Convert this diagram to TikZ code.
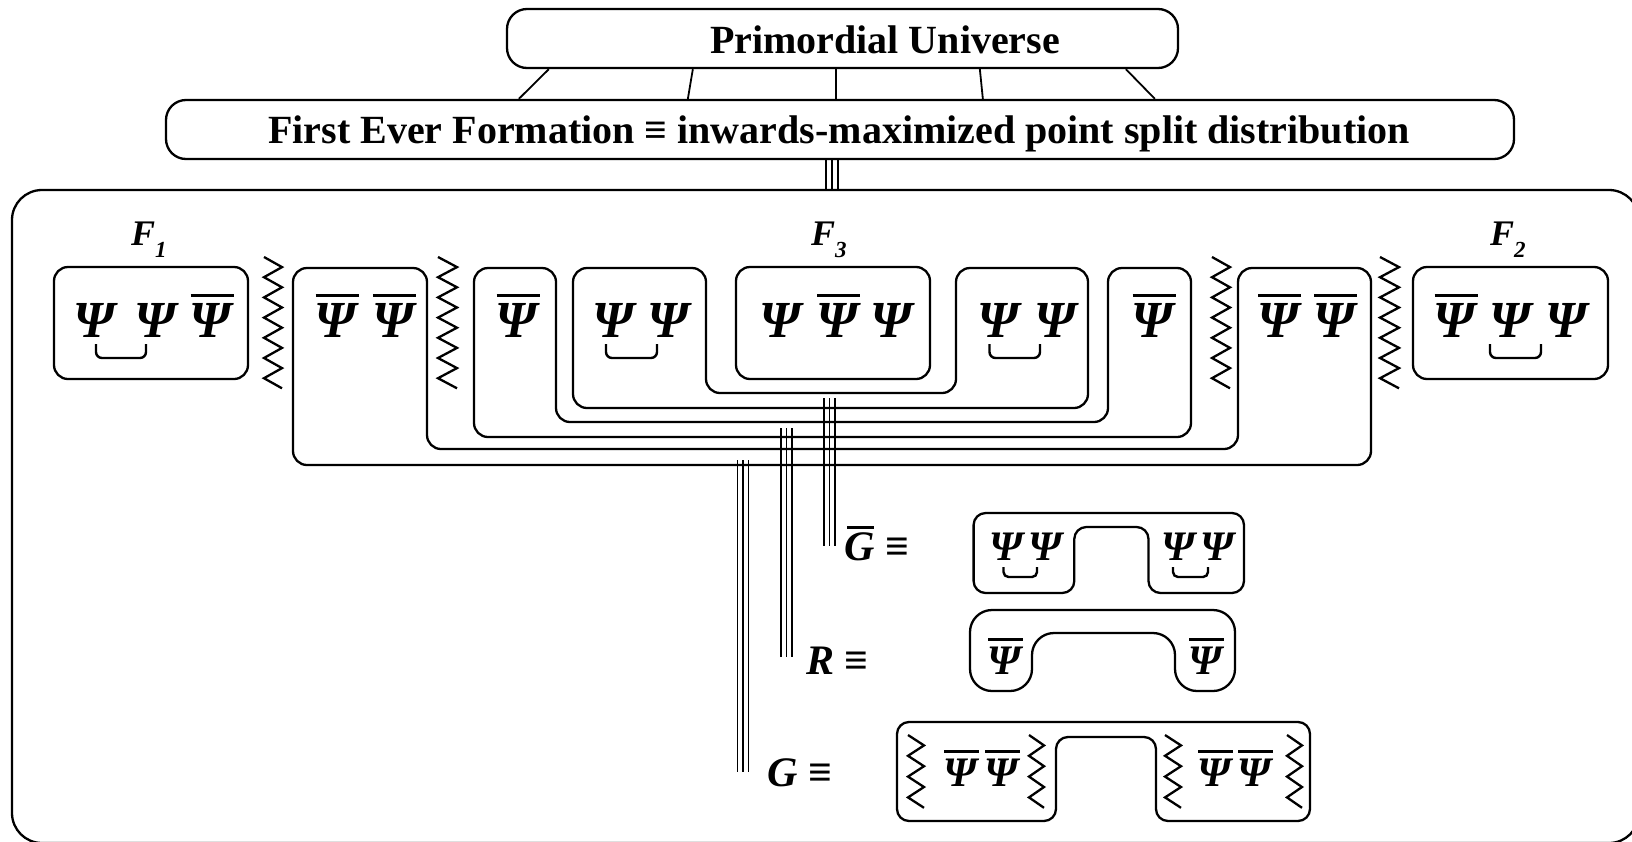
\documentclass[tikz,border=0pt]{standalone}
\usepackage{fontspec}
\setmainfont{Liberation Serif}
\usetikzlibrary{calc}
\newcommand\PsiN[4]{\node[#1] (#2) at (#3,#4) {Ψ};}
\newcommand\PsiB[4]{\node[#1] (#2) at (#3,#4) {Ψ};\draw[bar] (#2.base) ++(-20,-42) -- ++(43,0);}
\newcommand\PsiBs[4]{\node[#1] (#2) at (#3,#4) {Ψ};\draw[bar] (#2.base) ++(-16,-35) -- ++(35,0);}
\newcommand\zig[5]{\draw[zz] (#1,#2) \foreach \i in {1,...,#4}{ -- ({#1+#3*mod(\i,2)},{#2+\i*#5}) };}
\newcommand\brk[4]{\draw[brkt] (#1,#3) -- (#1,#4) -- (#2,#4) -- (#2,#3);}
\newcommand\tri[4]{\draw[tri] (#1,#2) -- (#1,#3); \draw[tri] ({#1+#4},#2) -- ({#1+#4},#3); \draw[tri] ({#1+2*#4},#2) -- ({#1+2*#4},#3);}
\begin{document}
\begin{tikzpicture}[x=1pt,y=-1pt,
  bx/.style={draw, line width=2.3pt, rounded corners=14pt},
  ttl/.style={font=\fontsize{40}{40}\selectfont\bfseries, inner sep=0pt, anchor=base},
  psi/.style={font=\fontsize{52}{52}\selectfont\bfseries\itshape, inner sep=0pt, anchor=base},
  psis/.style={font=\fontsize{42}{42}\selectfont\bfseries\itshape, inner sep=0pt, anchor=base},
  bar/.style={line width=3pt},
  brkt/.style={line width=2.4pt, rounded corners=6pt},
  zz/.style={line width=2.3pt, line join=miter},
  tri/.style={line width=1.6pt},
  conn/.style={line width=1.8pt},
  lbl/.style={font=\fontsize{36}{36}\selectfont\bfseries\itshape, inner sep=0pt, anchor=base west},
  leg/.style={font=\fontsize{42}{42}\selectfont\bfseries, inner sep=0pt, anchor=base west},
]
\useasboundingbox (0,0) rectangle (1632,841);
% outer frame (cut by the page edge)
\begin{scope}
\clip (0,0) rectangle (1632,841);
\draw[line width=2.3pt, rounded corners=30pt] (12,190) rectangle (1639,843);
\end{scope}
% title boxes
\node[bx, rounded corners=20pt, minimum width=671pt, minimum height=59pt, inner sep=0pt] (pu) at (842.5,38.5) {};
\node[ttl] (put) at (885,53) {Primordial Universe};
\node[bx, rounded corners=20pt, minimum width=1348pt, minimum height=59pt, inner sep=0pt] (fe) at (840,129.5) {};
\node[ttl] (fet) at (839,143) {First Ever Formation ≡ inwards-maximized point split distribution};
\draw[conn] ($(pu.south west)+(43,0)$) -- ($(fe.north west)+(354,0)$);
\draw[conn] ($(pu.south west)+(187,0)$) -- ($(fe.north west)+(523,0)$);
\draw[conn] ($(pu.south west)+(330,0)$) -- ($(fe.north west)+(671,0)$);
\draw[conn] ($(pu.south west)+(474,0)$) -- ($(fe.north west)+(818,0)$);
\draw[conn] ($(pu.south west)+(620,0)$) -- ($(fe.north west)+(990,0)$);
\tri{826}{159}{190}{6}
% labels
\node[lbl] (f1) at (131,245) {F\raisebox{-12pt}{\fontsize{23}{23}\selectfont 1}};
\node[lbl] (f3) at (811,245) {F\raisebox{-12pt}{\fontsize{23}{23}\selectfont 3}};
\node[lbl] (f2) at (1490,245) {F\raisebox{-12pt}{\fontsize{23}{23}\selectfont 2}};
% simple boxes
\node[bx, minimum width=194pt, minimum height=112pt, inner sep=0pt] (b1) at (151,323) {};
\node[bx, minimum width=194pt, minimum height=112pt, inner sep=0pt] (bc) at (833,323) {};
\node[bx, minimum width=195pt, minimum height=112pt, inner sep=0pt] (b2) at (1510.5,323) {};
% nested U shapes
\draw[bx] (360,268) -- (427,268) -- (427,449) -- (1238,449) -- (1238,268) -- (1371,268) -- (1371,465) -- (293,465) -- (293,268) -- cycle;
\draw[bx] (515,268) -- (556,268) -- (556,422) -- (1108,422) -- (1108,268) -- (1191,268) -- (1191,437) -- (474,437) -- (474,268) -- cycle;
\draw[bx] (640,268) -- (706,268) -- (706,393) -- (956,393) -- (956,268) -- (1088,268) -- (1088,408) -- (573,408) -- (573,268) -- cycle;
% zigzags
\zig{264}{257}{18}{13}{10.1}
\zig{438}{257}{19}{13}{10.1}
\zig{1212}{257}{18}{13}{10.1}
\zig{1380}{257}{19}{13}{10.1}
% psi symbols
\PsiN{psi}{a1}{94.6}{337}
\PsiN{psi}{a2}{155}{337}
\PsiB{psi}{a3}{210.7}{337}
\PsiB{psi}{a4}{335.7}{337}
\PsiB{psi}{a5}{392.9}{337}
\PsiB{psi}{a6}{516.6}{337}
\PsiN{psi}{a7}{613}{337}
\PsiN{psi}{a8}{668}{337}
\PsiN{psi}{a9}{780.6}{337}
\PsiB{psi}{a10}{837}{337}
\PsiN{psi}{a11}{890.8}{337}
\PsiN{psi}{a12}{998.7}{337}
\PsiN{psi}{a13}{1055}{337}
\PsiB{psi}{a14}{1152.6}{337}
\PsiB{psi}{a15}{1278}{337}
\PsiB{psi}{a16}{1334}{337}
\PsiB{psi}{a17}{1454.6}{337}
\PsiN{psi}{a18}{1510.6}{337}
\PsiN{psi}{a19}{1566.6}{337}
\brk{96}{146}{344}{358}
\brk{606}{657}{344}{358}
\brk{989.5}{1040}{344}{358}
\brk{1490}{1541}{344}{358}
% triple links
\tri{824.2}{398}{546}{5.4}
\tri{781}{428}{657}{5.5}
\tri{737.5}{460}{772}{5.5}
% legend labels
\node[leg] (lgb) at (844,560) {\textit{G} ≡};
\draw[bar] (847,527) -- (874,527);
\node[leg] (lr) at (806,674) {\textit{R} ≡};
\node[leg] (lg) at (767,786) {\textit{G} ≡};
% legend G-bar
\draw[bx, rounded corners=12pt] (1000,513) -- (1244,513) -- (1244,593) -- (1148.5,593) -- (1148.5,527) -- (1074.3,527) -- (1074.3,593) -- (973.6,593) -- (973.6,513) -- cycle;
\PsiN{psis}{g1}{1006}{560}
\PsiN{psis}{g2}{1045}{560}
\PsiN{psis}{g3}{1178}{560}
\PsiN{psis}{g4}{1217}{560}
\draw[brkt, rounded corners=5pt] (1003.5,567) -- (1003.5,577) -- (1037,577) -- (1037,567);
\draw[brkt, rounded corners=5pt] (1173,567) -- (1173,577) -- (1208,577) -- (1208,567);
% legend R
\draw[bx, rounded corners=22pt] (1100,610) -- (1235,610) -- (1235,691) -- (1175,691) -- (1175,633) -- (1032,633) -- (1032,691) -- (970,691) -- (970,610) -- cycle;
\PsiBs{psis}{r1}{1004}{674}
\PsiBs{psis}{r2}{1205}{674}
% legend G
\draw[bx, rounded corners=12pt] (1100,722) -- (1310,722) -- (1310,821) -- (1156,821) -- (1156,737) -- (1056,737) -- (1056,821) -- (897,821) -- (897,722) -- cycle;
\PsiBs{psis}{h1}{960}{786}
\PsiBs{psis}{h2}{1001}{786}
\PsiBs{psis}{h3}{1214}{786}
\PsiBs{psis}{h4}{1254}{786}
\zig{908}{735}{16}{7}{10.4}
\zig{1029}{735}{15}{7}{10.4}
\zig{1165}{735}{16}{7}{10.4}
\zig{1287}{735}{15}{7}{10.4}
\end{tikzpicture}
\end{document}
